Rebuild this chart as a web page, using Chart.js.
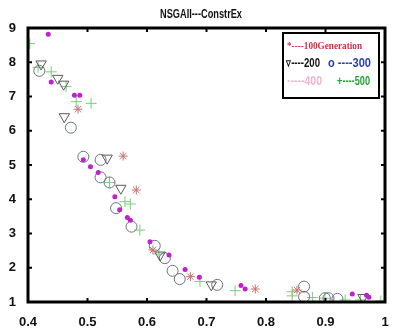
<!DOCTYPE html>
<html>
<head>
<meta charset="utf-8">
<script src="https://cdn.jsdelivr.net/npm/chart.js@4/dist/chart.umd.min.js"></script>
<style>
  body { margin: 0; background: #fff; }
  #wrap { width: 407px; height: 331px; position: relative; }
</style>
</head>
<body>
<div id="wrap"><canvas id="chart"></canvas></div>
<script>
// tick labels
const xTicks = [0.4, 0.5, 0.6, 0.7, 0.8, 0.9, 1];
const xTickLabels = ['0.4', '0.5', '0.6', '0.7', '0.8', '0.9', '1'];
const yTicks = [1, 2, 3, 4, 5, 6, 7, 8, 9];

// 100 generations (red star)
const gen100X = [0.484, 0.560, 0.582, 0.610, 0.673, 0.782, 0.852];
const gen100Y = [6.63, 5.26, 4.27, 2.52, 1.74, 1.38, 1.35];

// 200 generations (triangle)
const gen200X = [0.422, 0.450, 0.460, 0.461, 0.533, 0.556, 0.622, 0.708, 0.963];
const gen200Y = [7.95, 7.53, 7.36, 6.41, 5.20, 4.32, 2.37, 1.50, 1.13];

// 300 generations (circle)
const gen300X = [0.419, 0.472, 0.493, 0.522, 0.522, 0.537, 0.548, 0.574, 0.613, 0.630, 0.643, 0.655, 0.718, 0.864, 0.864, 0.899, 0.905, 0.920];
const gen300Y = [7.75, 6.09, 5.24, 5.15, 4.64, 4.49, 3.74, 3.20, 2.64, 2.28, 1.91, 1.67, 1.50, 1.45, 1.15, 1.11, 1.11, 1.09];

// 400 generations (dot)
const gen400X = [0.434, 0.439, 0.478, 0.487, 0.493, 0.505, 0.518, 0.546, 0.554, 0.567, 0.572, 0.605, 0.637, 0.664, 0.688, 0.758, 0.765, 0.945, 0.969, 0.973];
const gen400Y = [8.82, 7.42, 7.04, 7.04, 5.15, 4.95, 4.78, 4.07, 3.69, 3.47, 3.39, 2.76, 2.37, 1.95, 1.72, 1.48, 1.38, 1.23, 1.20, 1.14];

// 500 generations (plus)
const gen500X = [0.403, 0.417, 0.439, 0.464, 0.481, 0.506, 0.537, 0.563, 0.572, 0.588, 0.620, 0.689, 0.748, 0.844, 0.844, 0.878, 0.899, 0.933, 0.959, 0.993];
const gen500Y = [8.55, 7.85, 7.72, 7.29, 6.85, 6.80, 4.49, 3.93, 3.86, 3.10, 2.40, 1.60, 1.33, 1.30, 1.18, 1.13, 1.11, 1.06, 1.06, 1.03];

const toPoints = (xs, ys) => xs.map((x, i) => ({ x: x, y: ys[i] }));

// frame, inward ticks, title and the boxed legend
const framePlugin = {
  id: 'frame',
  afterDraw(chart) {
    const { ctx, chartArea: a, scales } = chart;
    ctx.save();
    ctx.strokeStyle = '#000';
    ctx.lineWidth = 2;
    xTicks.forEach(v => {
      const px = scales.x.getPixelForValue(v);
      ctx.beginPath();
      ctx.moveTo(px, a.bottom); ctx.lineTo(px, a.bottom - 4);
      ctx.moveTo(px, a.top); ctx.lineTo(px, a.top + 4);
      ctx.stroke();
    });
    yTicks.forEach(v => {
      const py = scales.y.getPixelForValue(v);
      ctx.beginPath();
      ctx.moveTo(a.left, py); ctx.lineTo(a.left + 4, py);
      ctx.moveTo(a.right, py); ctx.lineTo(a.right - 4, py);
      ctx.stroke();
    });
    ctx.lineWidth = 3;
    ctx.strokeRect(a.left, a.top, a.right - a.left, a.bottom - a.top);

    // title
    ctx.fillStyle = '#111';
    ctx.font = 'bold 13px "Liberation Sans Narrow", "Liberation Sans", sans-serif';
    ctx.textAlign = 'center';
    ctx.textBaseline = 'middle';
    ctx.fillText('NSGAII---ConstrEx', 201, 14, 82);

    // legend box
    ctx.fillStyle = '#fff';
    ctx.fillRect(283, 33, 96, 65);
    ctx.lineWidth = 2;
    ctx.strokeRect(283, 33, 96, 65);
    ctx.textAlign = 'left';
    ctx.font = 'bold 11px "Liberation Serif", serif';
    ctx.fillStyle = '#d0304a';
    ctx.fillText('*----100Generation', 287, 46, 75);
    ctx.font = 'bold 13px "Liberation Sans Narrow", "Liberation Sans", sans-serif';
    ctx.fillStyle = '#111';
    ctx.fillText('\u25BF----200', 286, 63, 34);
    ctx.fillStyle = '#2a3ea8';
    ctx.fillText('o ----300', 328, 63, 43);
    ctx.fillStyle = '#f2b6c8';
    ctx.fillText('\u00B7----400', 287, 81, 35);
    ctx.fillStyle = '#1fa838';
    ctx.fillText('+----500', 337, 81, 33);
    ctx.restore();
  }
};

new Chart(document.getElementById('chart'), {
  type: 'scatter',
  data: {
    datasets: [
      {
        label: '400',
        data: toPoints(gen400X, gen400Y),
        pointStyle: 'circle',
        pointRadius: 2.5,
        backgroundColor: '#c21fd0',
        borderColor: '#c21fd0',
        borderWidth: 0
      },
      {
        label: '100',
        data: toPoints(gen100X, gen100Y),
        pointStyle: 'star',
        pointRadius: 4.5,
        backgroundColor: 'transparent',
        borderColor: '#c97070',
        borderWidth: 1
      },
      {
        label: '200',
        data: toPoints(gen200X, gen200Y),
        pointStyle: 'triangle',
        pointRotation: 180,
        pointRadius: 6,
        backgroundColor: 'transparent',
        borderColor: '#5a5a5a',
        borderWidth: 1
      },
      {
        label: '300',
        data: toPoints(gen300X, gen300Y),
        pointStyle: 'circle',
        pointRadius: 5.5,
        backgroundColor: 'transparent',
        borderColor: '#6c7280',
        borderWidth: 1
      },
      {
        label: '500',
        data: toPoints(gen500X, gen500Y),
        pointStyle: 'cross',
        pointRadius: 5.5,
        backgroundColor: 'transparent',
        borderColor: '#79cf79',
        borderWidth: 1
      }
    ]
  },
  options: {
    responsive: true,
    maintainAspectRatio: false,
    animation: false,
    layout: { padding: { top: 28, right: 22, left: 0, bottom: 0 } },
    plugins: {
      legend: { display: false },
      title: { display: false },
      tooltip: { enabled: false }
    },
    scales: {
      x: {
        type: 'linear',
        min: 0.4,
        max: 1,
        afterBuildTicks: s => { s.ticks = xTicks.map(v => ({ value: v })); },
        afterFit: s => { s.height = 29; },
        grid: { display: false },
        border: { display: false },
        ticks: {
          padding: 5,
          color: '#111',
          font: { family: '"Liberation Sans", sans-serif', size: 13, weight: 'bold' },
          callback: (v) => xTickLabels[xTicks.indexOf(v)] ?? ''
        }
      },
      y: {
        type: 'linear',
        min: 1,
        max: 9,
        afterBuildTicks: s => { s.ticks = yTicks.map(v => ({ value: v })); },
        afterFit: s => { s.width = 28; },
        grid: { display: false },
        border: { display: false },
        ticks: {
          padding: 4,
          color: '#111',
          font: { family: '"Liberation Sans", sans-serif', size: 13, weight: 'bold' },
          callback: (v) => String(v)
        }
      }
    }
  },
  plugins: [framePlugin]
});
</script>
</body>
</html>
